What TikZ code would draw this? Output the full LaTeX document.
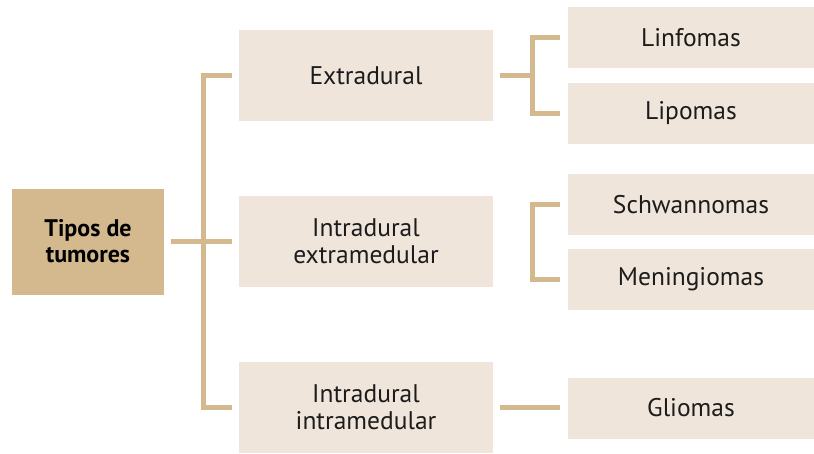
\documentclass[tikz,border=0pt]{standalone}
\usepackage{fontspec}
\setmainfont{PT Sans}
\usetikzlibrary{positioning}
\definecolor{tumortan}{RGB}{212,185,142}
\definecolor{tumorsand}{RGB}{239,229,218}
\definecolor{tumorink}{RGB}{28,28,28}
\tikzset{
    branch/.style={draw=tumortan, line width=5pt, line join=miter},
}

\begin{document}
\begin{tikzpicture}[x=1pt, y=-1pt,
    root/.style={rectangle, fill=tumortan, minimum width=152pt, minimum height=106pt, align=center, font=\fontsize{24}{26}\selectfont\bfseries},
    group/.style={rectangle, fill=tumorsand, text=tumorink, minimum width=254pt, minimum height=91pt, align=center, font=\fontsize{25.5}{27}\selectfont},
    leaf/.style={rectangle, fill=tumorsand, text=tumorink, minimum width=246pt, minimum height=61pt, font=\fontsize{25.5}{27}\selectfont},
]
\useasboundingbox (0,0) rectangle (814,453);

% root and the three groups
\node[root] (tipos) at (88,241.5) {Tipos de\\tumores};
\node[group] (extra) at (366,75.5) {Extradural};
\node[group] (intraext) at (366,241.5) {Intradural\\extramedular};
\node[group] (intraint) at (366,407.5) {Intradural\\intramedular};

% leaves
\node[leaf] (linf) at (691,37.5) {Linfomas};
\node[leaf] (lip) at (691,113.5) {Lipomas};
\node[leaf] (schw) at (691,204.5) {Schwannomas};
\node[leaf] (menin) at (691,279.5) {Meningiomas};
\node[leaf] (glio) at (691,408) {Gliomas};

% trunk from the root
\coordinate (trunk) at ([xshift=-35.5pt]extra.west);
\draw[branch] ([xshift=7pt]tipos.east) -- ([xshift=-7pt]intraext.west);
\draw[branch] ([xshift=-7pt]extra.west) -- (trunk) -- (trunk |- intraint) -- ([xshift=-7pt]intraint.west);

% brackets to the leaves
\coordinate (fork) at ([xshift=39.5pt]extra.east);
\draw[branch] ([xshift=7pt]extra.east) -- (fork);
\draw[branch] ([xshift=-8pt]linf.west) -| (fork |- lip) -- ([xshift=-8pt]lip.west);
\draw[branch] ([xshift=-8pt]schw.west) -| (fork |- menin) -- ([xshift=-8pt]menin.west);
\draw[branch] ([xshift=7pt]intraint.east) -- ([xshift=-8pt]glio.west |- intraint.east);
\end{tikzpicture}
\end{document}
